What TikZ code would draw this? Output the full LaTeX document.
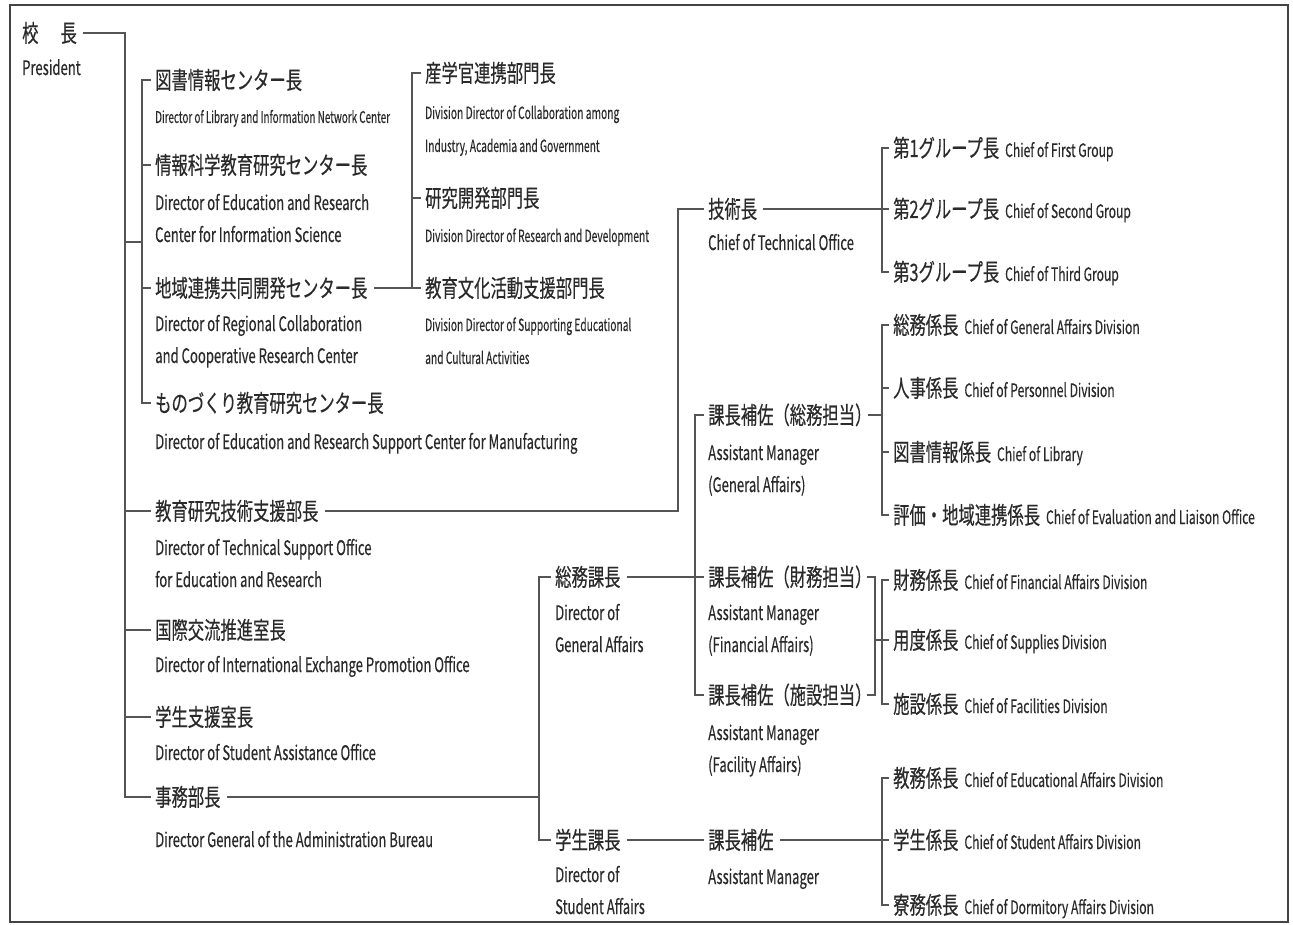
\documentclass[tikz,border=0pt]{standalone}
\usepackage{fontspec}
\newfontfamily\jpfont[FakeStretch=0.68, FakeBold=0.4]{Noto Sans CJK JP}
\newfontfamily\enfont[FakeStretch=0.655, FakeBold=0.3]{Noto Sans CJK JP}
\newfontfamily\ensfont[FakeStretch=0.61, FakeBold=0.3]{Noto Sans CJK JP}
\newcommand\enin{\enfont\fontsize{18.5}{18.5}\selectfont}
\definecolor{txt}{HTML}{2A2A2A}
\definecolor{ln}{HTML}{555555}
\definecolor{frm}{HTML}{444444}
\tikzset{
  jp/.style={anchor=west, inner sep=0pt, text=txt, font=\jpfont\fontsize{24}{24}\selectfont, text height=19.7pt, text depth=1.7pt},
  en/.style={anchor=base west, inner sep=0pt, text=txt, align=left, font=\enfont\fontsize{20}{32}\selectfont},
  ens/.style={anchor=base west, inner sep=0pt, text=txt, align=left, font=\ensfont\fontsize{16.8}{33}\selectfont},
  link/.style={draw=ln, line width=1.9pt},
}
\begin{document}
\begin{tikzpicture}[x=1pt,y=-1pt]
\useasboundingbox (0,0) rectangle (1293,925);
\draw[frm, line width=1.2pt] (10,5) rectangle (1288,922);

% president
\node (kocho) at (22,33) [jp] {校\hspace{22pt}長};
\node (kochoE) at (22,75) [en] {President};

% centers
\node (A1) at (155,80) [jp] {図書情報センター長};
\node (A1E) at (155,123) [ens, font=\ensfont\fontsize{16.2}{33}\selectfont] {Director of Library and Information Network Center};
\node (A2) at (155,165) [jp] {情報科学教育研究センター長};
\node (A2E) at (155,242) [en] {Director of Education and Research\\Center for Information Science};
\node (A3) at (155,288) [jp] {地域連携共同開発センター長};
\node (A3E) at (155,363) [en] {Director of Regional Collaboration\\and Cooperative Research Center};
\node (A4) at (155,403) [jp] {ものづくり教育研究センター長};
\node (A4E) at (155,449) [en] {Director of Education and Research Support Center for Manufacturing};

% divisions of the regional center
\node (B1) at (425,73) [jp] {産学官連携部門長};
\node (B1E) at (425,152) [ens] {Division Director of Collaboration among\\Industry, Academia and Government};
\node (B2) at (425,198) [jp] {研究開発部門長};
\node (B2E) at (425,242) [ens] {Division Director of Research and Development};
\node (B3) at (425,288) [jp] {教育文化活動支援部門長};
\node (B3E) at (425,364) [ens] {Division Director of Supporting Educational\\and Cultural Activities};

% offices under the president
\node (M1) at (155,511) [jp] {教育研究技術支援部長};
\node (M1E) at (155,587) [en] {Director of Technical Support Office\\for Education and Research};
\node (M2) at (155,630) [jp] {国際交流推進室長};
\node (M2E) at (155,672) [en] {Director of International Exchange Promotion Office};
\node (M3) at (155,717) [jp] {学生支援室長};
\node (M3E) at (155,760) [en] {Director of Student Assistance Office};
\node (M4) at (155,797) [jp] {事務部長};
\node (M4E) at (155,847) [en] {Director General of the Administration Bureau};

% technical office
\node (T) at (708,209) [jp] {技術長};
\node (TE) at (708,250) [en] {Chief of Technical Office};
\node (T1) at (893,148) [jp] {第1グループ長\hspace{6pt}{\enin Chief of First Group}};
\node (T2) at (893,209) [jp] {第2グループ長\hspace{6pt}{\enin Chief of Second Group}};
\node (T3) at (893,272) [jp] {第3グループ長\hspace{6pt}{\enin Chief of Third Group}};

% administration
\node (G) at (555,577) [jp] {総務課長};
\node (GE) at (555,652) [en] {Director of\\General Affairs};
\node (S) at (555,840) [jp] {学生課長};
\node (SE) at (555,914) [en] {Director of\\Student Affairs};
\node (GA) at (708,415) [jp] {課長補佐（総務担当）};
\node (GAE) at (708,492) [en] {Assistant Manager\\(General Affairs)};
\node (GF) at (708,577) [jp] {課長補佐（財務担当）};
\node (GFE) at (708,652) [en] {Assistant Manager\\(Financial Affairs)};
\node (GC) at (708,695) [jp] {課長補佐（施設担当）};
\node (GCE) at (708,772) [en] {Assistant Manager\\(Facility Affairs)};
\node (SA) at (708,840) [jp] {課長補佐};
\node (SAE) at (708,884) [en] {Assistant Manager};

\node (K1) at (893,325) [jp] {総務係長\hspace{6pt}{\enin Chief of General Affairs Division}};
\node (K2) at (893,388) [jp] {人事係長\hspace{6pt}{\enin Chief of Personnel Division}};
\node (K3) at (893,452) [jp] {図書情報係長\hspace{6pt}{\enin Chief of Library}};
\node (K4) at (893,515) [jp] {評価・地域連携係長\hspace{6pt}{\enin Chief of Evaluation and Liaison Office}};
\node (K5) at (893,580) [jp] {財務係長\hspace{6pt}{\enin Chief of Financial Affairs Division}};
\node (K6) at (893,640) [jp] {用度係長\hspace{6pt}{\enin Chief of Supplies Division}};
\node (K7) at (893,704) [jp] {施設係長\hspace{6pt}{\enin Chief of Facilities Division}};
\node (K8) at (893,778) [jp] {教務係長\hspace{6pt}{\enin Chief of Educational Affairs Division}};
\node (K9) at (893,840) [jp] {学生係長\hspace{6pt}{\enin Chief of Student Affairs Division}};
\node (K10) at (893,905) [jp] {寮務係長\hspace{6pt}{\enin Chief of Dormitory Affairs Division}};

% bracket lines
\coordinate (sp) at (125,0);
\coordinate (bA) at (142,242);
\coordinate (bB) at (412,0);
\coordinate (bT) at (678,0);
\coordinate (bT2) at (882,0);
\coordinate (bAd) at (539,0);
\coordinate (bG) at (695,0);
\coordinate (bK) at (882,0);
\coordinate (bR) at (875,0);

\draw[link] ([xshift=6]kocho.east) -| (sp |- M4.west) -- ([xshift=-4]M4.west);
\foreach \m in {M1,M2,M3}
  \draw[link] (sp |- \m.west) -- ([xshift=-4]\m.west);
\draw[link] (sp |- bA) -- (bA);
\draw[link] ([xshift=-4]A1.west) -| (bA) |- ([xshift=-4]A4.west);
\foreach \m in {A2,A3}
  \draw[link] (bA |- \m.west) -- ([xshift=-4]\m.west);

\draw[link] ([xshift=6]A3.east) -- ([xshift=-4]B3.west);
\draw[link] ([xshift=-4]B1.west) -| (bB |- B3.west);
\draw[link] (bB |- B2.west) -- ([xshift=-4]B2.west);

\draw[link] ([xshift=6]M1.east) -| (bT |- T.west) -- ([xshift=-4]T.west);
\draw[link] ([xshift=6]T.east) -- ([xshift=-4]T2.west);
\draw[link] ([xshift=-4]T1.west) -| (bT2 |- T3.west) -- ([xshift=-4]T3.west);

\draw[link] ([xshift=6]M4.east) -- (bAd |- M4.west);
\draw[link] ([xshift=-4]G.west) -| (bAd |- S.west) -- ([xshift=-4]S.west);
\draw[link] ([xshift=6]G.east) -- ([xshift=-4]GF.west);
\draw[link] ([xshift=-4]GA.west) -| (bG |- GC.west) -- ([xshift=-4]GC.west);

\draw[link] ([xshift=-4]GA.east) -- (bK |- GA.west);
\draw[link] ([xshift=-4]K1.west) -| (bK |- K4.west) -- ([xshift=-4]K4.west);
\foreach \m in {K2,K3}
  \draw[link] (bK |- \m.west) -- ([xshift=-4]\m.west);

\draw[link] ([xshift=-5]GF.east) -| (bR |- GC.west) -- ([xshift=-5]GC.east);
\draw[link] (bR |- K6.west) -- ([xshift=-4]K6.west);
\draw[link] ([xshift=-4]K5.west) -| (bK |- K7.west) -- ([xshift=-4]K7.west);

\draw[link] ([xshift=6]S.east) -- ([xshift=-4]SA.west);
\draw[link] ([xshift=6]SA.east) -- ([xshift=-4]K9.west);
\draw[link] ([xshift=-4]K8.west) -| (bK |- K10.west) -- ([xshift=-4]K10.west);
\end{tikzpicture}
\end{document}
